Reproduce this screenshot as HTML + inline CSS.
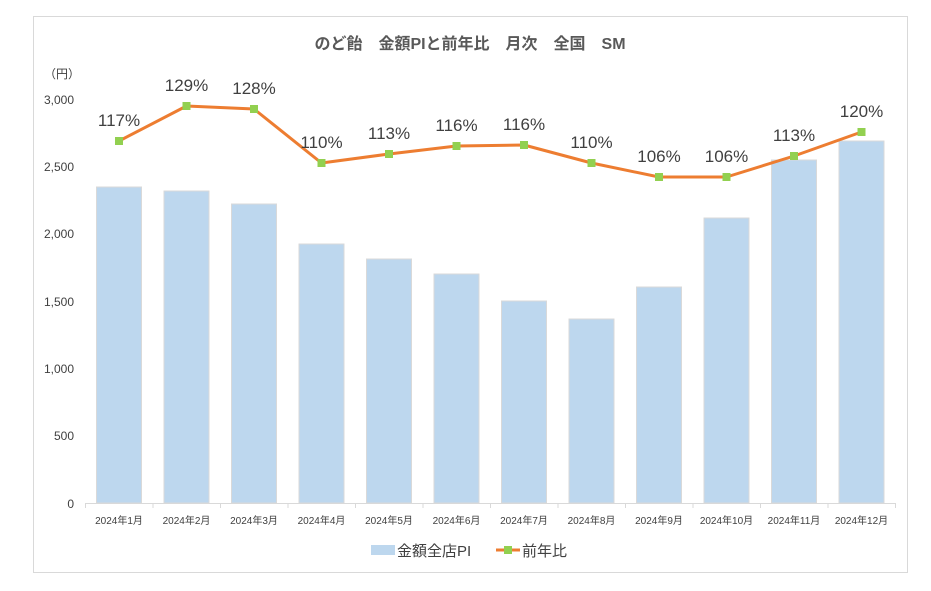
<!DOCTYPE html>
<html><head><meta charset="utf-8"><style>
html,body{margin:0;padding:0;background:#fff;}
svg{display:block;font-family:"Liberation Sans","Noto Sans CJK JP",sans-serif;}
</style></head><body>
<svg width="931" height="591" viewBox="0 0 931 591" xmlns="http://www.w3.org/2000/svg">
<rect x="33.5" y="16.5" width="874" height="556" fill="#fff" stroke="#d9d9d9"/>
<text x="470" y="49" text-anchor="middle" font-size="16" font-weight="bold" fill="#595959">のど飴　金額PIと前年比　月次　全国　SM</text>
<text x="62" y="78" text-anchor="middle" font-size="12" fill="#404040">（円）</text>
<g font-size="12" fill="#404040" text-anchor="end">
<text x="74" y="104">3,000</text>
<text x="74" y="171">2,500</text>
<text x="74" y="238">2,000</text>
<text x="74" y="306">1,500</text>
<text x="74" y="373">1,000</text>
<text x="74" y="440">500</text>
<text x="74" y="508">0</text>
</g>
<g fill="#bdd7ee" stroke="#d9d9d9" stroke-width="1">
<rect x="96.5" y="187" width="45" height="316"/>
<rect x="164" y="191" width="45" height="312"/>
<rect x="231.5" y="204" width="45" height="299"/>
<rect x="299" y="244" width="45" height="259"/>
<rect x="366.5" y="259" width="45" height="244"/>
<rect x="434" y="274" width="45" height="229"/>
<rect x="501.5" y="301" width="45" height="202"/>
<rect x="569" y="319" width="45" height="184"/>
<rect x="636.5" y="287" width="45" height="216"/>
<rect x="704" y="218" width="45" height="285"/>
<rect x="771.5" y="160" width="45" height="343"/>
<rect x="839" y="141" width="45" height="362"/>
</g>
<line x1="85" y1="503.5" x2="895" y2="503.5" stroke="#d9d9d9"/>
<g stroke="#d9d9d9">
<line x1="85.5" y1="503" x2="85.5" y2="508"/><line x1="153" y1="503" x2="153" y2="508"/><line x1="220.5" y1="503" x2="220.5" y2="508"/><line x1="288" y1="503" x2="288" y2="508"/><line x1="355.5" y1="503" x2="355.5" y2="508"/><line x1="423" y1="503" x2="423" y2="508"/><line x1="490.5" y1="503" x2="490.5" y2="508"/><line x1="558" y1="503" x2="558" y2="508"/><line x1="625.5" y1="503" x2="625.5" y2="508"/><line x1="693" y1="503" x2="693" y2="508"/><line x1="760.5" y1="503" x2="760.5" y2="508"/><line x1="828" y1="503" x2="828" y2="508"/><line x1="895.5" y1="503" x2="895.5" y2="508"/>
</g>
<g font-size="10" fill="#404040" text-anchor="middle">
<text x="119" y="524">2024年1月</text><text x="186.5" y="524">2024年2月</text><text x="254" y="524">2024年3月</text><text x="321.5" y="524">2024年4月</text><text x="389" y="524">2024年5月</text><text x="456.5" y="524">2024年6月</text><text x="524" y="524">2024年7月</text><text x="591.5" y="524">2024年8月</text><text x="659" y="524">2024年9月</text><text x="726.5" y="524">2024年10月</text><text x="794" y="524">2024年11月</text><text x="861.5" y="524">2024年12月</text>
</g>
<polyline fill="none" stroke="#ed7d31" stroke-width="3" stroke-linejoin="round" points="119,141 186.5,106 254,109 321.5,163 389,154 456.5,146 524,145 591.5,163 659,177 726.5,177 794,156 861.5,132"/>
<g fill="#92d050">
<rect x="115" y="137" width="8" height="8"/><rect x="182.5" y="102" width="8" height="8"/><rect x="250" y="105" width="8" height="8"/><rect x="317.5" y="159" width="8" height="8"/><rect x="385" y="150" width="8" height="8"/><rect x="452.5" y="142" width="8" height="8"/><rect x="520" y="141" width="8" height="8"/><rect x="587.5" y="159" width="8" height="8"/><rect x="655" y="173" width="8" height="8"/><rect x="722.5" y="173" width="8" height="8"/><rect x="790" y="152" width="8" height="8"/><rect x="857.5" y="128" width="8" height="8"/>
</g>
<g font-size="17" fill="#404040" text-anchor="middle">
<text x="119" y="126">117%</text><text x="186.5" y="91">129%</text><text x="254" y="94">128%</text><text x="321.5" y="148">110%</text><text x="389" y="139">113%</text><text x="456.5" y="131">116%</text><text x="524" y="130">116%</text><text x="591.5" y="148">110%</text><text x="659" y="162">106%</text><text x="726.5" y="162">106%</text><text x="794" y="141">113%</text><text x="861.5" y="117">120%</text>
</g>
<rect x="371" y="545" width="24" height="10" fill="#bdd7ee"/>
<text x="397" y="556" font-size="15" fill="#404040">金額全店PI</text>
<line x1="496" y1="550" x2="520" y2="550" stroke="#ed7d31" stroke-width="3"/>
<rect x="504" y="546" width="8" height="8" fill="#92d050"/>
<text x="522" y="556" font-size="15" fill="#404040">前年比</text>
</svg>
</body></html>
